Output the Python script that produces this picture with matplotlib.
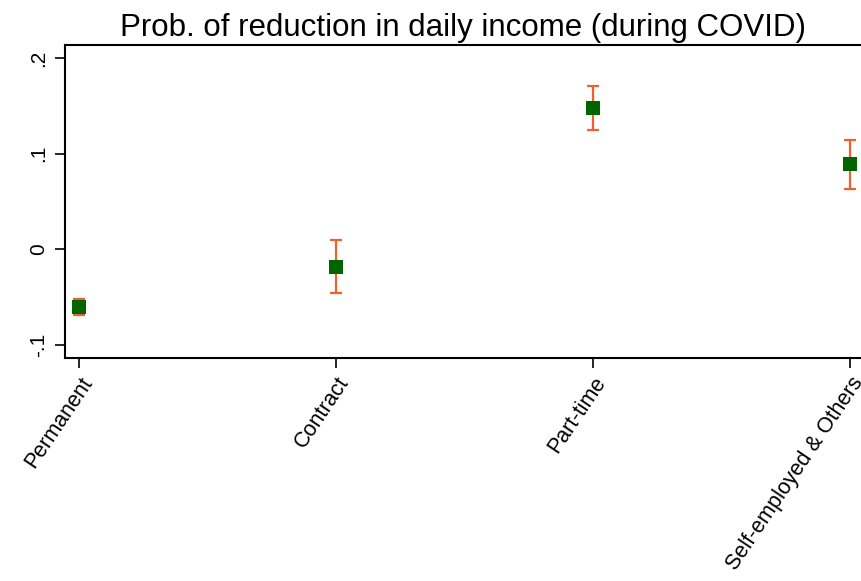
import matplotlib
matplotlib.use('Agg')
import matplotlib.pyplot as plt
import numpy as np

plt.rcParams['font.family'] = ['Liberation Sans', 'DejaVu Sans']

# Predicted probabilities with 95% CI by employment type
categories = ['Permanent', 'Contract', 'Part-time', 'Self-employed & Others']
estimates = [-0.061, -0.0185, 0.148, 0.089]
ci_low = [-0.069, -0.046, 0.125, 0.063]
ci_high = [-0.052, 0.010, 0.171, 0.114]

x = np.arange(len(categories))
est = np.array(estimates)
err = np.vstack([est - np.array(ci_low), np.array(ci_high) - est])

fig = plt.figure(figsize=(8.61, 5.81), dpi=100)
ax = fig.add_axes([65 / 861, 1 - 358 / 581, (861 - 65) / 861, (358 - 45) / 581])

ax.errorbar(x, est, yerr=err, fmt='none', ecolor='#f2602a', elinewidth=1.6,
            capsize=4.0, capthick=1.6, zorder=2)
ax.plot(x, est, 's', color='#006400', markersize=9.5, markeredgewidth=0, zorder=3)

ax.set_xlim(-0.055, 3.043)
ax.set_ylim(-0.114, 0.214)
ax.set_yticks([-0.1, 0, 0.1, 0.2])
ax.set_yticklabels(['-.1', '0', '.1', '.2'], rotation=90, va='center', fontsize=15)
ax.set_xticks(x)
ax.set_xticklabels(categories, rotation=56, ha='right', rotation_mode='anchor', fontsize=15.5)
ax.tick_params(axis='both', length=7, width=1.2, color='black')
ax.tick_params(axis='x', pad=4)
ax.tick_params(axis='y', pad=5)

for side in ['left', 'bottom', 'top']:
    ax.spines[side].set_linewidth(1.5)
ax.spines['right'].set_visible(False)

fig.text(463 / 861, 1 - 36 / 581, 'Prob. of reduction in daily income (during COVID)',
         ha='center', va='baseline', fontsize=22.5)

fig.savefig('out.png', dpi=100, facecolor='white')
